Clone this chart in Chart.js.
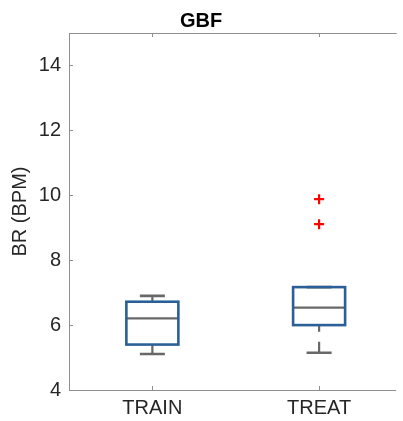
<!DOCTYPE html>
<html>
<head>
<meta charset="utf-8">
<script src="https://cdn.jsdelivr.net/npm/chart.js@4"></script>
<style>
  html, body { margin: 0; padding: 0; background: #fff; }
  #wrap { width: 403px; height: 421px; }
</style>
</head>
<body>
<div id="wrap"><canvas id="boxChart"></canvas></div>
<script>
// box plot values
const categories = ["TRAIN", "TREAT"];
const whiskerLow = [5.11, 5.15];
const q1 = [5.40, 6.00];
const medians = [6.21, 6.54];
const q3 = [6.72, 7.17];
const whiskerHigh = [6.90, 7.17];
const outliers = [[], [9.88, 9.11]];
const yTicks = [4, 6, 8, 10, 12, 14];

const BOX_BLUE = "#2b5f97";
const GREY = "#686868";
const AXIS = "#8f8f8f";
const FONT = "'Liberation Sans', Arial, sans-serif";

const outlierPoints = [];
outliers.forEach((vals, i) => vals.forEach(v => outlierPoints.push({ x: i + 1, y: v })));

// draws boxes, medians, whiskers and inward ticks using the chart scales
const boxPlugin = {
  id: "boxPlugin",
  beforeDatasetsDraw(chart) {
    const { ctx, chartArea, scales: { x, y } } = chart;
    ctx.save();
    ctx.strokeStyle = AXIS;
    ctx.lineWidth = 1;
    ctx.beginPath();
    ctx.moveTo(chartArea.left, chartArea.top + 0.5);
    ctx.lineTo(chartArea.right + 1, chartArea.top + 0.5);
    categories.forEach((c, i) => {
      const px = Math.round(x.getPixelForValue(i + 1)) + 0.5;
      ctx.moveTo(px, chartArea.bottom);
      ctx.lineTo(px, chartArea.bottom - 4);
      ctx.moveTo(px, chartArea.top);
      ctx.lineTo(px, chartArea.top + 4);
    });
    yTicks.forEach(v => {
      const py = Math.round(y.getPixelForValue(v)) + 0.5;
      ctx.moveTo(chartArea.left, py);
      ctx.lineTo(chartArea.left + 4, py);
    });
    ctx.stroke();

    const boxHalf = 26;
    const capHalf = 12.5;
    categories.forEach((c, i) => {
      const cx = x.getPixelForValue(i + 1);
      const yLo = y.getPixelForValue(whiskerLow[i]);
      const yQ1 = y.getPixelForValue(q1[i]);
      const yMed = y.getPixelForValue(medians[i]);
      const yQ3 = y.getPixelForValue(q3[i]);
      const yHi = y.getPixelForValue(whiskerHigh[i]);

      // whiskers, dashed, drawn from the cap toward the box
      ctx.strokeStyle = GREY;
      ctx.lineWidth = 2.2;
      ctx.setLineDash([11, 10]);
      ctx.beginPath();
      ctx.moveTo(cx, yLo);
      ctx.lineTo(cx, yQ1);
      if (yHi < yQ3 - 0.5) {
        ctx.moveTo(cx, yHi);
        ctx.lineTo(cx, yQ3);
      }
      ctx.stroke();
      ctx.setLineDash([]);

      // caps
      ctx.lineWidth = 2.6;
      ctx.beginPath();
      ctx.moveTo(cx - capHalf, yLo);
      ctx.lineTo(cx + capHalf, yLo);
      ctx.moveTo(cx - capHalf, yHi);
      ctx.lineTo(cx + capHalf, yHi);
      ctx.stroke();

      // median
      ctx.lineWidth = 2.2;
      ctx.beginPath();
      ctx.moveTo(cx - boxHalf, yMed);
      ctx.lineTo(cx + boxHalf, yMed);
      ctx.stroke();

      // box
      ctx.strokeStyle = BOX_BLUE;
      ctx.lineWidth = 2.6;
      ctx.strokeRect(cx - boxHalf, yQ3, boxHalf * 2, yQ1 - yQ3);
    });
    ctx.restore();
  }
};

new Chart(document.getElementById("boxChart"), {
  type: "scatter",
  data: {
    datasets: [{
      label: "Outliers",
      data: outlierPoints,
      pointStyle: "cross",
      pointRadius: 5,
      pointHoverRadius: 5,
      borderColor: "#ff0000",
      backgroundColor: "#ff0000",
      borderWidth: 2.2
    }]
  },
  options: {
    responsive: true,
    maintainAspectRatio: false,
    animation: false,
    layout: { padding: { top: 0, right: 1, bottom: 0, left: 0 } },
    plugins: {
      legend: { display: false },
      tooltip: { enabled: false },
      title: {
        display: true,
        text: "GBF",
        color: "#000",
        font: { family: FONT, size: 20, weight: "bold" },
        padding: { top: 9, bottom: 0 }
      }
    },
    scales: {
      x: {
        type: "linear",
        min: 0.5,
        max: 2.46,
        afterBuildTicks: scale => { scale.ticks = categories.map((c, i) => ({ value: i + 1 })); },
        afterFit: scale => { scale.height = 31; },
        ticks: {
          callback: (v) => categories[v - 1] || "",
          color: "#262626",
          font: { family: FONT, size: 20 },
          padding: 6,
          maxRotation: 0
        },
        grid: { display: false, drawTicks: false },
        border: { display: true, color: AXIS, width: 1 }
      },
      y: {
        min: 4,
        max: 15,
        afterBuildTicks: scale => { scale.ticks = yTicks.map(v => ({ value: v })); },
        afterFit: scale => { scale.width = 69; },
        ticks: {
          color: "#262626",
          font: { family: FONT, size: 20 },
          padding: 8
        },
        title: {
          display: true,
          text: "BR (BPM)",
          color: "#262626",
          font: { family: FONT, size: 20 },
          padding: { top: 8, bottom: 0 }
        },
        grid: { display: false, drawTicks: false },
        border: { display: true, color: AXIS, width: 1 }
      }
    }
  },
  plugins: [boxPlugin]
});
</script>
</body>
</html>
